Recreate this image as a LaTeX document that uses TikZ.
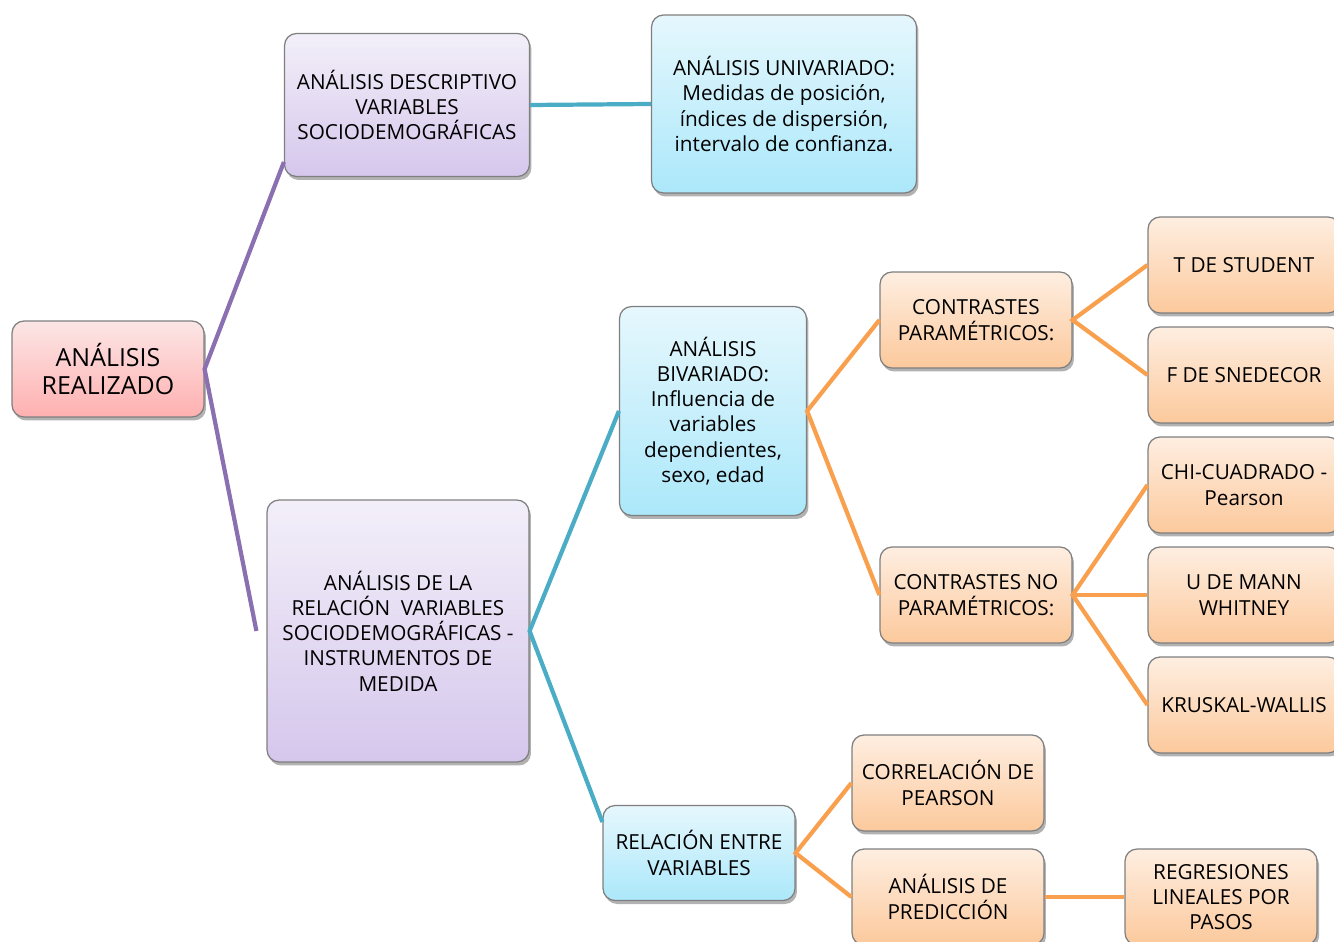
\documentclass[tikz,border=0pt]{standalone}
\usepackage{fontspec}
\setmainfont{Open Sans}
\usetikzlibrary{shadows}

\definecolor{linepurple}{HTML}{8A70B0}
\definecolor{linecyan}{HTML}{4BACC6}
\definecolor{lineorange}{HTML}{F9A04F}
\definecolor{boxborder}{HTML}{7F7F7F}
\definecolor{pinktop}{HTML}{FCE6E6}
\definecolor{pinkbot}{HTML}{FFB0B0}
\definecolor{lilactop}{HTML}{F3EFF9}
\definecolor{lilacbot}{HTML}{D5C7EC}
\definecolor{cyantop}{HTML}{E6F7FD}
\definecolor{cyanbot}{HTML}{ABE8FA}
\definecolor{orangetop}{HTML}{FEEEE1}
\definecolor{orangebot}{HTML}{FCC99C}

\begin{document}
\begin{tikzpicture}[x=0.02cm,y=-0.02cm,
  box/.style={draw=boxborder,line width=0.7pt,rounded corners=0.24cm,align=center,
    minimum width=3.84cm,minimum height=1.92cm,inner sep=2pt,
    font=\fontsize{11.8}{14.4}\selectfont,
    drop shadow={shadow xshift=0.04cm,shadow yshift=-0.07cm,fill=black,opacity=0.3}},
  pinkbox/.style={box,top color=pinktop,bottom color=pinkbot},
  lilacbox/.style={box,top color=lilactop,bottom color=lilacbot},
  cyanbox/.style={box,top color=cyantop,bottom color=cyanbot},
  orangebox/.style={box,top color=orangetop,bottom color=orangebot},
  purpleline/.style={linepurple,line width=2.4pt},
  cyanline/.style={linecyan,line width=2.4pt},
  orangeline/.style={lineorange,line width=2.4pt}]
  \useasboundingbox (0,0) rectangle (1334,942);
  % boxes
  \node[pinkbox,font=\fontsize{14.2}{16.4}\selectfont] (root) at (108,369) {ANÁLISIS\\REALIZADO};
  \node[lilacbox,minimum width=4.9cm,minimum height=2.86cm] (desc) at (407,105) {ANÁLISIS DESCRIPTIVO\\VARIABLES\\SOCIODEMOGRÁFICAS};
  \node[cyanbox,minimum width=5.3cm,minimum height=3.56cm] (univ) at (784,104) {ANÁLISIS UNIVARIADO:\\Medidas de posición,\\índices de dispersión,\\intervalo de confianza.};
  \node[lilacbox,minimum width=5.24cm,minimum height=5.24cm] (rel) at (398,631) {ANÁLISIS DE LA\\RELACIÓN\ \ VARIABLES\\SOCIODEMOGRÁFICAS -\\INSTRUMENTOS DE\\MEDIDA};
  \node[cyanbox,minimum width=3.74cm,minimum height=4.18cm] (biv) at (713,411) {ANÁLISIS\\BIVARIADO:\\Influencia de\\variables\\dependientes,\\sexo, edad};
  \node[cyanbox,minimum height=1.9cm] (relvar) at (699,853) {RELACIÓN ENTRE\\VARIABLES};
  \node[orangebox] (cp) at (976,320) {CONTRASTES\\PARAMÉTRICOS:};
  \node[orangebox] (cnp) at (976,595) {CONTRASTES NO\\PARAMÉTRICOS:};
  \node[orangebox] (tst) at (1244,265) {T DE STUDENT};
  \node[orangebox] (fsn) at (1244,375) {F DE SNEDECOR};
  \node[orangebox] (chi) at (1244,485) {CHI-CUADRADO -\\Pearson};
  \node[orangebox] (umw) at (1244,595) {U DE MANN\\WHITNEY};
  \node[orangebox] (kw) at (1244,705) {KRUSKAL-WALLIS};
  \node[orangebox] (corr) at (948,783) {CORRELACIÓN DE\\PEARSON};
  \node[orangebox] (pred) at (948,897) {ANÁLISIS DE\\PREDICCIÓN};
  \node[orangebox] (reg) at (1221,897) {REGRESIONES\\LINEALES POR\\PASOS};
  % connectors
  \draw[purpleline] ([yshift=-1.14cm]desc.west) -- (root.east) -- ([xshift=-0.2cm]rel.west);
  \draw[cyanline] (desc.east) -- (univ.west);
  \draw[cyanline] (biv.west) -- (rel.east) -- ([yshift=0.62cm]relvar.west);
  \draw[orangeline] (cp.west) -- (biv.east) -- (cnp.west);
  \draw[orangeline] (tst.west) -- (cp.east) -- (fsn.west);
  \draw[orangeline] (chi.west) -- (cnp.east) -- (kw.west);
  \draw[orangeline] (cnp.east) -- (umw.west);
  \draw[orangeline] (corr.west) -- (relvar.east) -- (pred.west);
  \draw[orangeline] (pred.east) -- (reg.west);
\end{tikzpicture}
\end{document}
